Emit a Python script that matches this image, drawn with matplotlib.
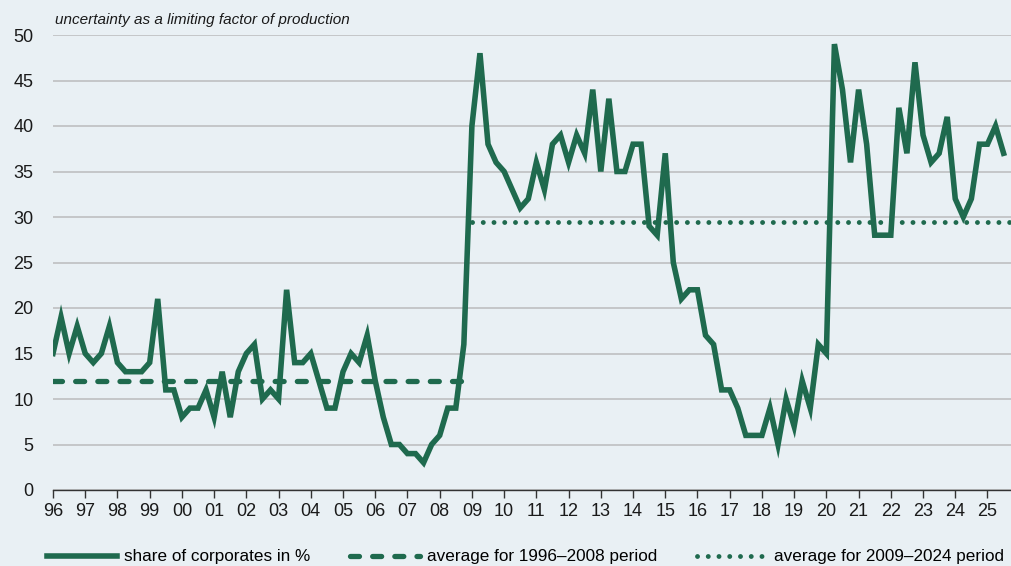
import numpy as np
import matplotlib.pyplot as plt
from matplotlib.lines import Line2D

plt.rcParams['font.family'] = ['Liberation Sans', 'DejaVu Sans']

# quarterly share of corporates citing uncertainty, 1996Q1 .. 2025Q3
share = [
    15, 19, 15, 18,   # 1996
    15, 14, 15, 18,   # 1997
    14, 13, 13, 13,   # 1998
    14, 21, 11, 11,   # 1999
    8, 9, 9, 11,      # 2000
    8, 13, 8, 13,     # 2001
    15, 16, 10, 11,   # 2002
    10, 22, 14, 14,   # 2003
    15, 12, 9, 9,     # 2004
    13, 15, 14, 17,   # 2005
    12, 8, 5, 5,      # 2006
    4, 4, 3, 5,       # 2007
    6, 9, 9, 16,      # 2008
    40, 48, 38, 36,   # 2009
    35, 33, 31, 32,   # 2010
    36, 33, 38, 39,   # 2011
    36, 39, 37, 44,   # 2012
    35, 43, 35, 35,   # 2013
    38, 38, 29, 28,   # 2014
    37, 25, 21, 22,   # 2015
    22, 17, 16, 11,   # 2016
    11, 9, 6, 6,      # 2017
    6, 9, 5, 10,      # 2018
    7, 12, 9, 16,     # 2019
    15, 49, 44, 36,   # 2020
    44, 38, 28, 28,   # 2021
    28, 42, 37, 47,   # 2022
    39, 36, 37, 41,   # 2023
    32, 30, 32, 38,   # 2024
    38, 40, 37,       # 2025
]
avg_1996_2008 = 12.0
avg_2009_2024 = 29.4
years = list(range(1996, 2026))
year_labels = [str(y)[2:] for y in years]

t = 1996 + np.arange(len(share)) / 4.0
green = '#1f6a4e'
bg = '#e9f0f4'
fs = 13
leg_fs = 12.3

dash_style = dict(dashes=(1.7, 2.5), dash_capstyle='round')
dot_style = dict(dashes=(0.01, 2.2), dash_capstyle='round')

fig = plt.figure(figsize=(10.11, 5.66), dpi=100)
fig.patch.set_facecolor(bg)
ax = fig.add_axes([53 / 1011, 76 / 566, 958 / 1011, 455 / 566])
ax.set_facecolor(bg)

# averages
early = t < 2009
late = t >= 2009
ax.plot(t[early], [avg_1996_2008] * early.sum(), color=green, lw=3.8, zorder=2, **dash_style)
ax.plot(np.append(t[late], 2025.7), [avg_2009_2024] * (late.sum() + 1), color=green,
        lw=3.5, zorder=2, **dot_style)
ax.plot(t, share, color=green, lw=4.0, solid_joinstyle='miter', zorder=3)

ax.set_xlim(1996, 2025.73)
ax.set_ylim(0, 50)
ax.set_yticks(range(0, 51, 5))
ax.set_xticks(years)
ax.set_xticklabels(year_labels)
ax.grid(axis='y', color='#c4c6c8', lw=1.4, zorder=0)
ax.set_axisbelow(True)
for s in ['top', 'right', 'left']:
    ax.spines[s].set_visible(False)
ax.spines['bottom'].set_color('#333333')
ax.spines['bottom'].set_linewidth(1.0)
ax.spines['bottom'].set_zorder(4)
ax.tick_params(axis='y', length=0, pad=14, labelsize=fs, labelcolor='#1a1a1a')
ax.tick_params(axis='x', length=6, width=1, color='#333333', pad=3,
               labelsize=fs, labelcolor='#1a1a1a')

fig.text(55 / 1011, 1 - 20 / 566, 'uncertainty as a limiting factor of production',
         fontsize=11, style='italic', va='center', ha='left', color='#1a1a1a')

# legend: one entry per block, left edges as in the original
handles = [
    Line2D([], [], color=green, lw=4.0),
    Line2D([], [], color=green, lw=3.8, **dash_style),
    Line2D([], [], color=green, lw=3.5, **dot_style),
]
labels = ['share of corporates in %', 'average for 1996–2008 period',
          'average for 2009–2024 period']
lefts = [47, 350, 697]
px = leg_fs * 100 / 72
for h, lab, x0 in zip(handles, labels, lefts):
    fig.legend([h], [lab], loc='center left', bbox_to_anchor=(x0 / 1011, 1 - 557 / 566),
               frameon=False, fontsize=leg_fs, handlelength=70 / px,
               handletextpad=7 / px, borderpad=0, borderaxespad=0)

fig.savefig('out.png', dpi=100, facecolor=bg)
